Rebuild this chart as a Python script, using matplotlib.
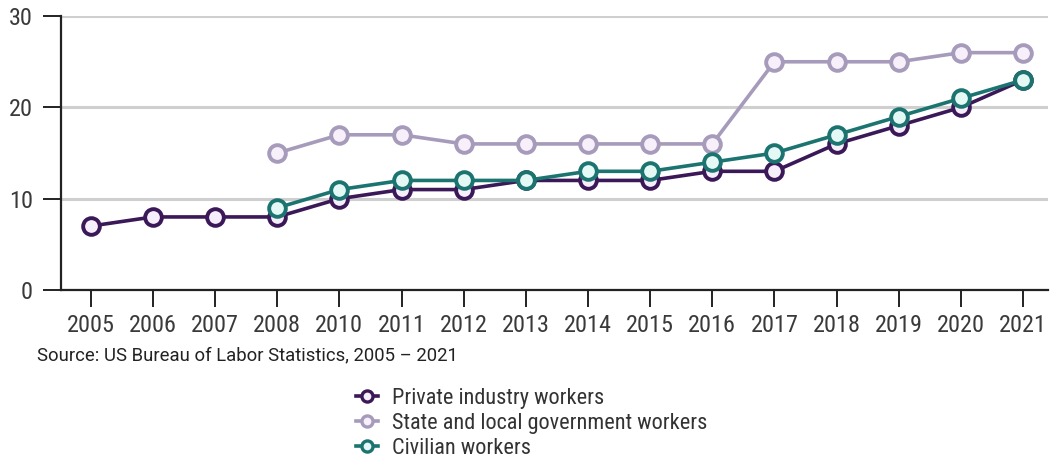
import matplotlib
matplotlib.use("Agg")
import matplotlib.pyplot as plt
from matplotlib import font_manager

years = ["2005", "2006", "2007", "2008", "2010", "2011", "2012", "2013",
         "2014", "2015", "2016", "2017", "2018", "2019", "2020", "2021"]
private = [7, 8, 8, 8, 10, 11, 11, 12, 12, 12, 13, 13, 16, 18, 20, 23]
state_local = [None, None, None, 15, 17, 17, 16, 16, 16, 16, 16, 25, 25, 25, 26, 26]
civilian = [None, None, None, 9, 11, 12, 12, 12, 13, 13, 14, 15, 17, 19, 21, 23]
y_ticks = [0, 10, 20, 30]

names = {f.name for f in font_manager.fontManager.ttflist}
family = "Roboto Condensed" if "Roboto Condensed" in names else "Roboto"
plt.rcParams["font.family"] = [family, "DejaVu Sans"]

fig = plt.figure(figsize=(10.5, 4.61), dpi=100)
ax = fig.add_axes([0.058, 0.371, 0.94, 0.594])

series = [
    ("Private industry workers", private, "#3b1857", "#f6eefb"),
    ("State and local government workers", state_local, "#a79bbb", "#f7f0fb"),
    ("Civilian workers", civilian, "#1b7470", "#e4f8f6"),
]
x = list(range(len(years)))
for label, vals, col, fill in series:
    xs = [i for i, v in zip(x, vals) if v is not None]
    ys = [v for v in vals if v is not None]
    ax.plot(xs, ys, color=col, lw=2.6, marker="o", ms=12,
            mfc=fill, mec=col, mew=2.8, label=label, zorder=3)

ax.set_xlim(-0.48, 15.4)
ax.set_ylim(0, 30)
ax.set_yticks(y_ticks)
ax.set_xticks(x)
ax.set_xticklabels(years)
ax.grid(axis="y", color="#cfcfcf", lw=2.2, zorder=0)
ax.set_axisbelow(True)
for s in ("top", "right"):
    ax.spines[s].set_visible(False)
for s in ("left", "bottom"):
    ax.spines[s].set_color("#222222")
    ax.spines[s].set_linewidth(1.6)
ax.tick_params(axis="x", length=12, width=1.4, color="#222222",
               labelsize=17.5, labelcolor="#3a3a3a", pad=5)
ax.tick_params(axis="y", length=13, width=1.4, color="#222222",
               labelsize=17.5, labelcolor="#3a3a3a", pad=7)

fig.text(0.035, 1 - 355 / 461, "Source: US Bureau of Labor Statistics, 2005 \u2013 2021",
         fontsize=13.3, color="#222222", va="center",
         family=["Roboto", "DejaVu Sans"])

leg_handles = []
for label, vals, col, fill in series:
    lh, = ax.plot([], [], color=col, lw=2.6, marker="o", ms=8,
                  mfc=fill, mec=col, mew=2.4, label=label)
    leg_handles.append(lh)
fig.legend(handles=leg_handles, loc="upper left",
           bbox_to_anchor=(0.339, 1 - 388 / 461), frameon=False,
           fontsize=16, handlelength=1.0, handletextpad=0.6,
           labelspacing=0.18, borderaxespad=0, borderpad=0,
           labelcolor="#333333")

fig.savefig("out.png", dpi=100)
